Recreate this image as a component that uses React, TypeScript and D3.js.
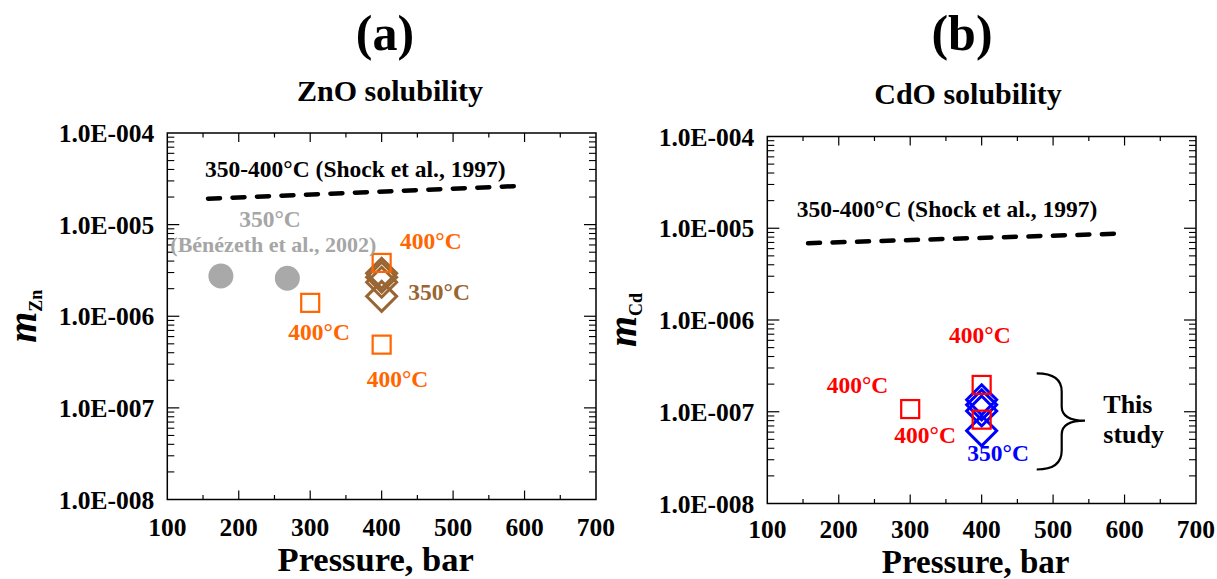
import React from "react";
import * as d3 from "d3";

// ---------- data ----------
const xTickValues = [100, 200, 300, 400, 500, 600, 700];
const yTickValues = [1e-4, 1e-5, 1e-6, 1e-7, 1e-8];
const yTickLabels = ["1.0E-004", "1.0E-005", "1.0E-006", "1.0E-007", "1.0E-008"];

// Panel (a) ZnO
const shockZnP = [157, 590];
const shockZnM = [1.92e-5, 2.64e-5];
const benezethP = [175, 268];
const benezethM = [2.75e-6, 2.6e-6];
const zn350P = [400, 400, 400, 400];
const zn350M = [2.94e-6, 2.67e-6, 2.35e-6, 1.65e-6];
const zn400P = [300, 400, 400];
const zn400M = [1.4e-6, 3.82e-6, 4.9e-7];

// Panel (b) CdO
const shockCdP = [157, 590];
const shockCdM = [6.87e-6, 8.73e-6];
const cd350P = [400, 400, 400, 400];
const cd350M = [1.35e-7, 1.19e-7, 1.02e-7, 6.2e-8];
const cd400P = [300, 400, 400];
const cd400M = [1.07e-7, 1.96e-7, 8.2e-8];

const FONT = "'Liberation Serif', 'Times New Roman', Times, serif";

type Label = { text: string; x: number; y: number; color: string; size?: number; anchor?: string };

type PanelProps = {
  left: number;
  top: number;
  width: number;
  height: number;
  letter: string;
  letterX: number;
  title: string;
  titleX: number;
  titleY: number;
  ySub: string;
  yLabelX: number;
  xTickDy: number;
  xTitleDy: number;
  xTitleSize: number;
  shockP: number[];
  shockM: number[];
  circlesP?: number[];
  circlesM?: number[];
  diamondP: number[];
  diamondM: number[];
  diamondColor: string;
  squareP: number[];
  squareM: number[];
  squareColor: string;
  labels: Label[];
  brace?: boolean;
};

function Panel(p: PanelProps) {
  const x = d3.scaleLinear().domain([100, 700]).range([0, p.width]);
  const y = d3.scaleLog().domain([1e-8, 1e-4]).range([p.height, 0]);
  const minorX = d3.range(150, 700, 100);
  const minorY: number[] = [];
  for (let e = -8; e < -4; e++) for (let k = 2; k <= 9; k++) minorY.push(k * Math.pow(10, e));
  const line = d3
    .line<number>()
    .x((_, i) => x(p.shockP[i]))
    .y((d) => y(d));
  const dr = 15;
  const sq = 9;
  return (
    <g>
      <text x={p.letterX} y={50} textAnchor="middle" fontFamily={FONT} fontWeight="bold" fontSize={50}>
        {p.letter}
      </text>
      <text x={p.titleX} y={p.titleY} textAnchor="middle" fontFamily={FONT} fontWeight="bold" fontSize={30}>
        {p.title}
      </text>
      <g transform={`translate(${p.left},${p.top})`}>
        <rect x={0} y={0} width={p.width} height={p.height} fill="none" stroke="#000" strokeWidth={1.5} />
        {xTickValues.slice(1, -1).map((v) => (
          <g key={"xt" + v}>
            <line x1={x(v)} x2={x(v)} y1={p.height} y2={p.height - 9} stroke="#000" strokeWidth={1.2} />
            <line x1={x(v)} x2={x(v)} y1={0} y2={9} stroke="#000" strokeWidth={1.2} />
          </g>
        ))}
        {minorX.map((v) => (
          <g key={"xm" + v}>
            <line x1={x(v)} x2={x(v)} y1={p.height} y2={p.height - 4.5} stroke="#000" strokeWidth={1.2} />
            <line x1={x(v)} x2={x(v)} y1={0} y2={4.5} stroke="#000" strokeWidth={1.2} />
          </g>
        ))}
        {yTickValues.slice(1, -1).map((v) => (
          <g key={"yt" + v}>
            <line x1={0} x2={12} y1={y(v)} y2={y(v)} stroke="#000" strokeWidth={1.2} />
            <line x1={p.width} x2={p.width - 12} y1={y(v)} y2={y(v)} stroke="#000" strokeWidth={1.2} />
          </g>
        ))}
        {minorY.map((v) => (
          <g key={"ym" + v}>
            <line x1={0} x2={7} y1={y(v)} y2={y(v)} stroke="#000" strokeWidth={1.1} />
            <line x1={p.width} x2={p.width - 7} y1={y(v)} y2={y(v)} stroke="#000" strokeWidth={1.1} />
          </g>
        ))}
        {xTickValues.map((v) => (
          <text key={"xl" + v} x={x(v)} y={p.height + p.xTickDy} textAnchor="middle" fontFamily={FONT} fontWeight="bold" fontSize={25.5}>
            {v}
          </text>
        ))}
        {yTickValues.map((v, i) => (
          <text key={"yl" + v} x={-13} y={y(v) + 9} textAnchor="end" fontFamily={FONT} fontWeight="bold" fontSize={25.5}>
            {yTickLabels[i]}
          </text>
        ))}
        <text x={p.width / 2 - 6} y={p.height + p.xTitleDy} textAnchor="middle" fontFamily={FONT} fontWeight="bold" fontSize={p.xTitleSize}>
          Pressure, bar
        </text>
        <text transform={`translate(${p.yLabelX},${p.height / 2}) rotate(-90)`} textAnchor="middle" fontFamily={FONT} fontWeight="bold">
          <tspan fontStyle="italic" fontSize={40}>m</tspan>
          <tspan fontSize={18} dy={6}>{p.ySub}</tspan>
        </text>

        <path d={line(p.shockM) || ""} fill="none" stroke="#000" strokeWidth={4.5} strokeDasharray="12 12.5" strokeLinecap="round" />

        {(p.circlesP || []).map((v, i) => (
          <circle key={"c" + i} cx={x(v)} cy={y(p.circlesM![i])} r={12.5} fill="#a9a9a9" />
        ))}
        {p.diamondP.map((v, i) => {
          const cx = x(v);
          const cy = y(p.diamondM[i]);
          return (
            <path
              key={"d" + i}
              d={`M${cx},${cy - dr}L${cx + dr},${cy}L${cx},${cy + dr}L${cx - dr},${cy}Z`}
              fill="none"
              stroke={p.diamondColor}
              strokeWidth={3}
            />
          );
        })}
        {p.squareP.map((v, i) => (
          <rect key={"s" + i} x={x(v) - sq} y={y(p.squareM[i]) - sq} width={2 * sq} height={2 * sq} fill="none" stroke={p.squareColor} strokeWidth={2.2} />
        ))}
        {p.labels.map((l, i) => (
          <text key={"lb" + i} x={l.x} y={l.y} textAnchor={l.anchor || "start"} fill={l.color} fontFamily={FONT} fontWeight="bold" fontSize={l.size || 23.5}>
            {l.text}
          </text>
        ))}
        {p.brace && (
          <path
            d="M269.4,236.8 Q294.4,236.8 294.4,255 L294.4,270 Q294.4,284.2 317.7,284.2 Q294.4,284.2 294.4,298 L294.4,314 Q294.4,333 269.4,333"
            fill="none"
            stroke="#000"
            strokeWidth={2.2}
          />
        )}
      </g>
    </g>
  );
}

export default function App() {
  const orange = "#ff6600";
  const brown = "#996633";
  const gray = "#a6a6a6";
  const red = "#ff0000";
  const blue = "#0000ff";
  return (
    <div style={{ position: "absolute", left: 0, top: 0 }}>
      <svg width={1217} height={579} style={{ display: "block", background: "#fff" }}>
        <Panel
          left={167.3}
          top={133}
          width={428.7}
          height={366.5}
          letter="(a)"
          letterX={385}
          title="ZnO solubility"
          titleX={390}
          titleY={101}
          ySub="Zn"
          yLabelX={-131}
          xTickDy={36}
          xTitleDy={71}
          xTitleSize={34.5}
          shockP={shockZnP}
          shockM={shockZnM}
          circlesP={benezethP}
          circlesM={benezethM}
          diamondP={zn350P}
          diamondM={zn350M}
          diamondColor={brown}
          squareP={zn400P}
          squareM={zn400M}
          squareColor={orange}
          labels={[
            { text: "350-400°C (Shock et al., 1997)", x: 37.7, y: 43.7, color: "#000" },
            { text: "350°C", x: 102.7, y: 93.7, color: gray, anchor: "middle" },
            { text: "(Bénézeth et al., 2002)", x: 106, y: 118.7, color: gray, anchor: "middle", size: 22 },
            { text: "400°C", x: 232.7, y: 116.3, color: orange },
            { text: "350°C", x: 241, y: 167, color: brown },
            { text: "400°C", x: 121, y: 207, color: orange },
            { text: "400°C", x: 199.4, y: 254.3, color: orange },
          ]}
        />
        <Panel
          left={767.3}
          top={136.5}
          width={428.7}
          height={367}
          letter="(b)"
          letterX={962}
          title="CdO solubility"
          titleX={968}
          titleY={104}
          ySub="Cd"
          yLabelX={-131}
          xTickDy={34}
          xTitleDy={69}
          xTitleSize={33}
          shockP={shockCdP}
          shockM={shockCdM}
          diamondP={cd350P}
          diamondM={cd350M}
          diamondColor={blue}
          squareP={cd400P}
          squareM={cd400M}
          squareColor={red}
          labels={[
            { text: "350-400°C (Shock et al., 1997)", x: 29.4, y: 80.2, color: "#000" },
            { text: "400°C", x: 181.7, y: 206.8, color: red },
            { text: "400°C", x: 59.4, y: 256.8, color: red },
            { text: "400°C", x: 127, y: 306.8, color: red },
            { text: "350°C", x: 200, y: 324.2, color: blue },
            { text: "This", x: 336, y: 276.2, color: "#000", size: 26 },
            { text: "study", x: 336, y: 306.8, color: "#000", size: 26 },
          ]}
          brace
        />
      </svg>
    </div>
  );
}
